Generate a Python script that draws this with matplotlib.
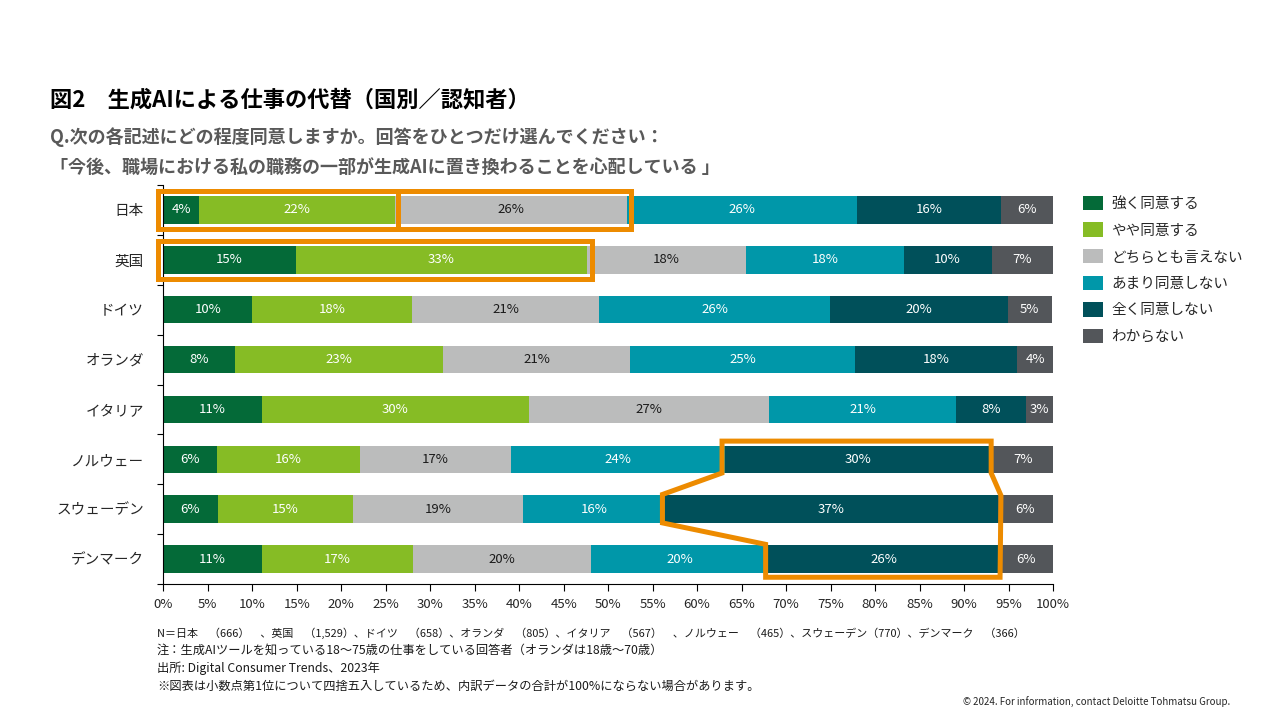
import matplotlib
matplotlib.use("Agg")
import matplotlib.pyplot as plt
from matplotlib.patches import Rectangle, Polygon
import numpy as np

plt.rcParams['font.family'] = ['Noto Sans CJK JP', 'DejaVu Sans']

countries = ['日本', '英国', 'ドイツ', 'オランダ', 'イタリア', 'ノルウェー', 'スウェーデン', 'デンマーク']
categories = ['強く同意する', 'やや同意する', 'どちらとも言えない', 'あまり同意しない', '全く同意しない', 'わからない']
strongly_agree = [4.0, 14.9, 10.0, 8.1, 11.1, 6.0, 6.1, 11.1]
somewhat_agree = [22.0, 32.7, 18.0, 23.3, 30.0, 16.1, 15.2, 17.0]
neutral = [26.1, 17.9, 21.0, 21.1, 27.0, 17.0, 19.1, 20.0]
somewhat_disagree = [25.9, 17.7, 25.9, 25.2, 21.0, 24.0, 16.0, 19.9]
strongly_disagree = [16.1, 9.9, 20.0, 18.3, 7.9, 30.0, 37.4, 26.0]
dont_know = [5.9, 6.9, 5.0, 4.0, 3.0, 7.0, 6.2, 6.0]
x_ticks = list(range(0, 101, 5))

colors = ['#046A38', '#86BC25', '#BBBCBC', '#0097A9', '#00505A', '#53565A']
label_colors = ['white', 'white', '#1a1a1a', 'white', 'white', 'white']
orange = '#ED8B00'

series = [strongly_agree, somewhat_agree, neutral, somewhat_disagree, strongly_disagree, dont_know]
data = np.array(series)  # (6, 8)
cum = np.vstack([np.zeros(len(countries)), np.cumsum(data, axis=0)])

fig = plt.figure(figsize=(12.8, 7.2), dpi=100)
ax = fig.add_axes([163.3 / 1280, 1 - 584 / 720, (1053 - 163.3) / 1280, (584 - 185) / 720])

y = np.arange(len(countries))
h = 0.55
for i, (vals, c) in enumerate(zip(series, colors)):
    ax.barh(y, vals, left=cum[i], height=h, color=c, label=categories[i], zorder=2)
    for j, v in enumerate(vals):
        ax.text(cum[i][j] + v / 2, y[j], f"{round(v)}%", ha='center', va='center',
                color=label_colors[i], fontsize=9.5, zorder=3)

ax.set_xlim(0, 100)
ax.set_ylim(len(countries) - 0.5, -0.5)
ax.set_xticks(x_ticks)
ax.set_xticklabels([f"{t}%" for t in x_ticks], fontsize=9.5, color='#262626')
ax.set_yticks(y)
ax.set_yticklabels(countries, fontsize=10.5, color='#262626')
ax.set_yticks(np.arange(len(countries) + 1) - 0.5, minor=True)
ax.tick_params(axis='y', which='major', length=0, pad=14)
ax.tick_params(axis='y', which='minor', length=4, width=0.8, direction='out')
ax.tick_params(axis='x', which='major', length=5, width=0.8, direction='out', pad=5)
for s in ['top', 'right']:
    ax.spines[s].set_visible(False)
ax.spines['left'].set_linewidth(0.8)
ax.spines['bottom'].set_linewidth(0.8)

# orange highlights
lw = 3.6
def rect(x0, x1, row, padx0, padx1, pady=0.11):
    ax.add_patch(Rectangle((x0 - padx0, row - h / 2 - pady), (x1 + padx1) - (x0 - padx0), h + 2 * pady,
                           fill=False, edgecolor=orange, linewidth=lw, clip_on=False, zorder=5,
                           joinstyle='miter'))

rect(cum[0][0], cum[2][0], 0, 0.65, 0.35)
rect(cum[2][0], cum[3][0], 0, -0.35, 0.45)
rect(cum[0][1], cum[2][1], 1, 0.65, 0.55)

n, s_, d = 5, 6, 7
px = 0.3
qy = 0.09
pts = [
    (cum[4][n] - px, n - h / 2 - qy),
    (cum[5][n] - 0.05, n - h / 2 - qy),
    (cum[5][n] - 0.05, n + h / 2),
    (cum[5][s_] + 0.35, s_ - h / 2),
    (cum[5][d] + 0.05, d + h / 2 + qy),
    (cum[4][d] - px, d + h / 2 + qy),
    (cum[4][d] - px, d - h / 2 - 0.02),
    (cum[4][s_] - px, s_ + h / 2),
    (cum[4][s_] - px, s_ - h / 2 - 0.02),
    (cum[4][n] - px, n + h / 2),
]
ax.add_patch(Polygon(pts, closed=True, fill=False, edgecolor=orange, linewidth=lw,
                     clip_on=False, zorder=5, joinstyle='miter'))

# legend
handles, labels = ax.get_legend_handles_labels()
fig.legend(handles, labels, loc='upper left', bbox_to_anchor=(1080 / 1280, 1 - 193 / 720),
           frameon=False, fontsize=10.5, handlelength=1.35, handleheight=1.15,
           labelspacing=0.78, handletextpad=0.6, labelcolor='#262626',
           borderaxespad=0, borderpad=0.2)

# titles
fig.text(50 / 1280, 1 - 100 / 720, '図2　生成AIによる仕事の代替（国別／認知者）', fontsize=16,
         fontweight='bold', color='#000000', va='center', ha='left')
fig.text(50 / 1280, 1 - 137 / 720, 'Q.次の各記述にどの程度同意しますか。回答をひとつだけ選んでください：',
         fontsize=13, fontweight='bold', color='#595959', va='center', ha='left')
fig.text(50 / 1280, 1 - 167 / 720, '「今後、職場における私の職務の一部が生成AIに置き換わることを心配している 」',
         fontsize=13, fontweight='bold', color='#595959', va='center', ha='left')

notes = [
    'N＝日本　（666）　、英国　（1,529）、ドイツ　（658）、オランダ　（805）、イタリア　（567）　、ノルウェー　（465）、スウェーデン（770）、デンマーク　（366）',
    '注：生成AIツールを知っている18～75歳の仕事をしている回答者（オランダは18歳～70歳）',
    '出所: Digital Consumer Trends、2023年',
    '※図表は小数点第1位について四捨五入しているため、内訳データの合計が100%にならない場合があります。',
]
note_sizes = [7.9, 8.8, 8.8, 8.8]
for t, yy, fs in zip(notes, [633, 650, 668, 686], note_sizes):
    fig.text(157 / 1280, 1 - yy / 720, t, fontsize=fs, color='#1a1a1a', va='center', ha='left')

fig.text(1230 / 1280, 1 - 702 / 720, '© 2024. For information, contact Deloitte Tohmatsu Group.',
         fontsize=7, color='#262626', va='center', ha='right')

fig.savefig('out.png', dpi=100)
